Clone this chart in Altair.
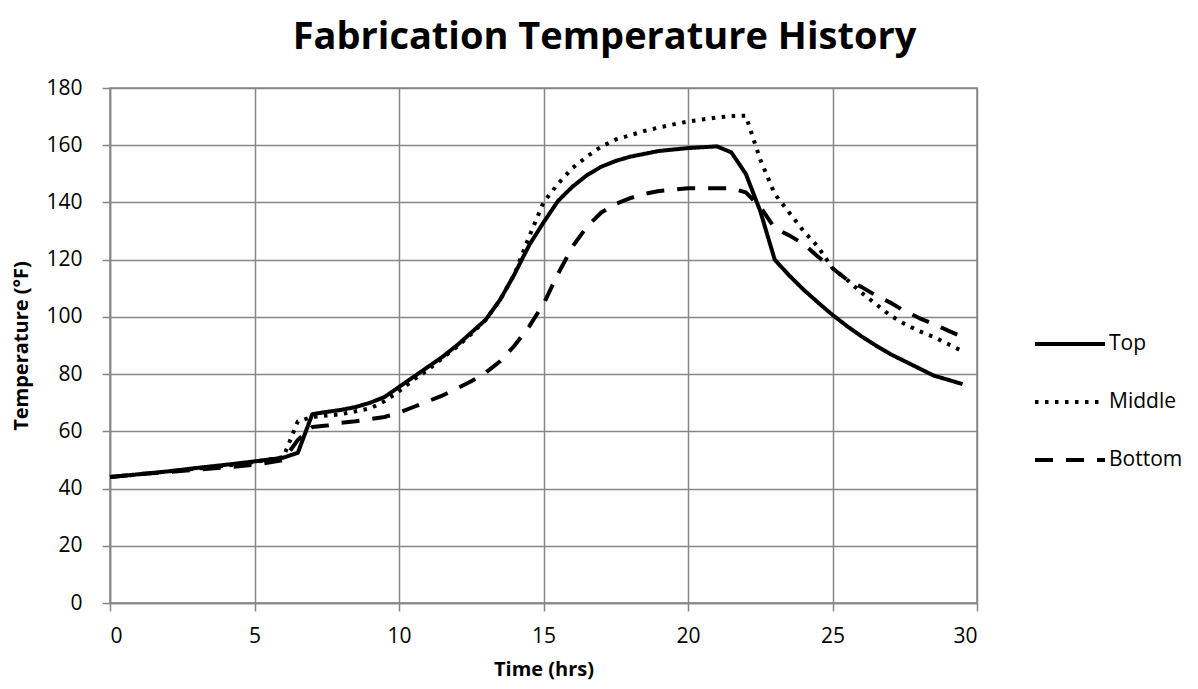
import altair as alt
import pandas as pd

hours = [0, 1, 2, 3, 4, 5, 6, 6.5, 7, 7.5, 8, 8.5, 9, 9.5, 10, 10.5, 11, 11.5, 12, 12.5,
         13, 13.5, 14, 14.5, 15, 15.5, 16, 16.5, 17, 17.5, 18, 18.5, 19, 19.5, 20, 20.5,
         21, 21.5, 22, 22.5, 23, 23.5, 24, 24.5, 25, 25.5, 26, 26.5, 27, 27.5, 28, 28.5,
         29, 29.5]

top = [44, 45, 46, 47.2, 48.3, 49.5, 50.8, 52.5, 66, 66.8, 67.5, 68.5, 70, 72, 75.5, 79,
       82.5, 86, 90, 94.5, 99, 106, 115, 125, 133, 140.5, 145.5, 149.5, 152.5, 154.5,
       156, 157, 158, 158.5, 159, 159.3, 159.6, 157.5, 150, 137, 120, 114.5, 109.5, 105,
       100.7, 96.8, 93.2, 90, 87, 84.5, 82, 79.5, 78, 76.5]

middle = [44, 45, 46, 47, 48, 49.3, 51, 63.5, 65, 65.5, 66, 67, 68, 70.5, 74, 78, 81.5,
          85.5, 89.5, 94, 99, 106, 115, 128, 140, 146.5, 152, 156, 159.5, 162, 163.5,
          165, 166.2, 167.3, 168.3, 169, 169.7, 170.2, 170.3, 155, 143, 136.5, 130, 124.5,
          117, 113, 108.5, 104.5, 100.5, 97.5, 95, 93, 90.5, 88]

bottom = [44, 45, 45.8, 46.6, 47.4, 48.3, 50, 57, 61.5, 62, 63, 63.5, 64.3, 65, 66.5,
          68.5, 70.5, 72.5, 75, 77.5, 80.5, 84.5, 90, 96.6, 104.5, 115, 124.5, 131.5,
          136.5, 139.5, 141.5, 143, 144, 144.5, 145, 145, 145, 145, 143.5, 138.5, 131,
          128.5, 125.5, 121, 117, 113, 110.5, 107.5, 105, 102, 99.6, 97.5, 95.2, 93]

series_names = ["Top", "Middle", "Bottom"]
series_values = [top, middle, bottom]
dash_patterns = [[1, 0], [3.5, 6.5], [18, 13]]

rows = []
for name, vals in zip(series_names, series_values):
    for h, v in zip(hours, vals):
        rows.append({"Time": h, "Temp": v, "Series": name})
df = pd.DataFrame(rows)

FONT = "Open Sans"

chart = alt.Chart(df).mark_line(
    strokeWidth=4, color="black", strokeCap="butt", strokeJoin="round"
).encode(
    x=alt.X("Time:Q", title="Time (hrs)",
            scale=alt.Scale(domain=[0, 30], nice=False),
            axis=alt.Axis(values=[0, 5, 10, 15, 20, 25, 30])),
    y=alt.Y("Temp:Q", title="Temperature (°F)",
            scale=alt.Scale(domain=[0, 180], nice=False),
            axis=alt.Axis(values=list(range(0, 181, 20)), titleX=-79)),
    strokeDash=alt.StrokeDash(
        "Series:N",
        scale=alt.Scale(domain=series_names, range=dash_patterns),
        sort=series_names,
        legend=alt.Legend(
            title=None, orient="none", legendX=923, legendY=219,
            symbolType="stroke", symbolSize=4900, symbolStrokeWidth=4,
            symbolStrokeColor="black", labelFontSize=21, labelFont=FONT,
            labelColor="black", rowPadding=11, labelOffset=2,
        ),
    ),
).properties(
    width=867,
    height=515,
    title=alt.Title("Fabrication Temperature History", fontSize=38, font=FONT,
                    fontWeight="bold", color="black", anchor="middle", offset=20,
                    dx=61),
    autosize=alt.AutoSizeParams(type="none"),
    padding={"left": 102, "top": 80, "right": 213, "bottom": 90},
).configure_view(
    stroke="#868686", strokeWidth=1.5
).configure_axis(
    gridColor="#868686", gridWidth=1.5, domainColor="#868686", domainWidth=1.5,
    tickColor="#868686", tickWidth=1.5, tickSize=8,
    labelFont=FONT, labelFontSize=21, labelColor="black",
    titleFont=FONT, titleFontSize=20, titleFontWeight="bold", titleColor="black",
).configure_axisY(
    labelPadding=20, titlePadding=0
).configure_axisX(
    labelPadding=14, titlePadding=13
)

chart.save("out.html", embed_options={"renderer": "svg", "actions": False})
